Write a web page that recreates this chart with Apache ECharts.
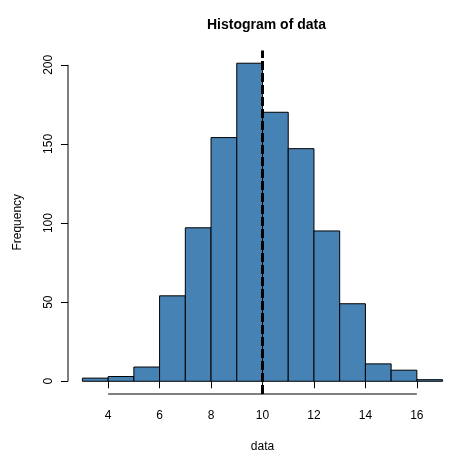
<!DOCTYPE html>
<html>
<head>
<meta charset="utf-8">
<script src="https://cdn.jsdelivr.net/npm/echarts@6/dist/echarts.min.js"></script>
<style>html,body{margin:0;padding:0;background:#fff}#c{width:462px;height:458px}</style>
</head>
<body>
<div id="c"></div>
<script>
// Histogram bins (left edges, width 1) and counts
const binStarts = [3,4,5,6,7,8,9,10,11,12,13,14,15,16];
const binWidth = 1;
const counts = [2,3,9,54,97,154,201,170,147,95,49,11,7,1];
const xTicks = [4,6,8,10,12,14,16];
const yTicks = [0,50,100,150,200];
const refLine = [10];
const titleText = 'Histogram of data';
const xName = 'data';
const yName = 'Frequency';

const FONT = "'Liberation Sans', Arial, Helvetica, sans-serif";
// R-style 4% axis extension
const xLo = binStarts[0], xHi = binStarts[binStarts.length-1] + binWidth;
const yLo = 0, yHi = Math.max(...counts);
const xMin = xLo - 0.04*(xHi-xLo), xMax = xHi + 0.04*(xHi-xLo);
const yMin = yLo - 0.04*(yHi-yLo), yMax = yHi + 0.04*(yHi-yLo);

const barData = binStarts.map((s,i)=>[s, s+binWidth, counts[i]]);

const chart = echarts.init(document.getElementById('c'), null, {renderer:'canvas'});
chart.setOption({
  animation:false,
  backgroundColor:'#fff',
  textStyle:{fontFamily:FONT},
  title:{text:titleText, left:202, top:13,
    textStyle:{fontFamily:FONT, fontWeight:'bold', fontSize:14, color:'#000'}},
  grid:{left:68, right:5, top:50.5, bottom:60, containLabel:false},
  xAxis:{type:'value', min:xMin, max:xMax,
    name:xName, nameLocation:'middle', nameGap:47,
    nameTextStyle:{fontFamily:FONT, fontSize:12, color:'#000'},
    axisLine:{show:false}, splitLine:{show:false},
    axisTick:{show:true, length:7, customValues:xTicks, lineStyle:{color:'#000', width:1}},
    axisLabel:{customValues:xTicks, fontFamily:FONT, fontSize:12, color:'#000', margin:16}},
  yAxis:{type:'value', min:yMin, max:yMax,
    name:yName, nameLocation:'middle', nameGap:44,
    nameTextStyle:{fontFamily:FONT, fontSize:12, color:'#000'},
    axisLine:{show:false}, splitLine:{show:false},
    axisTick:{show:true, length:7, customValues:yTicks, lineStyle:{color:'#000', width:1}},
    axisLabel:{customValues:yTicks, rotate:90, fontFamily:FONT, fontSize:12, color:'#000', margin:13}},
  series:[
    {type:'custom', name:'bars', data:barData, clip:false,
      renderItem:function(params, api){
        const a = api.coord([api.value(0), 0]);
        const b = api.coord([api.value(1), api.value(2)]);
        return {type:'rect',
          shape:{x:a[0], y:b[1], width:b[0]-a[0], height:a[1]-b[1]},
          style:{fill:'#4682B4', stroke:'#000', lineWidth:1}};
      }
    },
    {type:'custom', name:'ref', data:refLine.map(v=>[v]), clip:false, z:5,
      renderItem:function(params, api){
        const a = api.coord([api.value(0), yMin]);
        const b = api.coord([api.value(0), yMax]);
        return {type:'line', shape:{x1:a[0], y1:a[1], x2:b[0], y2:b[1]},
          style:{stroke:'#000', lineWidth:3, lineDash:[9,3]}};
      }
    },
    {type:'custom', name:'axes', data:[[xTicks[0], xTicks[xTicks.length-1], yTicks[0], yTicks[yTicks.length-1]]], clip:false,
      renderItem:function(params, api){
        const p1 = api.coord([api.value(0), yMin]);
        const p2 = api.coord([api.value(1), yMin]);
        const q1 = api.coord([xMin, api.value(2)]);
        const q2 = api.coord([xMin, api.value(3)]);
        return {type:'group', children:[
          {type:'line', shape:{x1:p1[0], y1:p1[1], x2:p2[0], y2:p2[1]}, style:{stroke:'#000', lineWidth:1}},
          {type:'line', shape:{x1:q1[0], y1:q1[1], x2:q2[0], y2:q2[1]}, style:{stroke:'#000', lineWidth:1}}
        ]};
      }
    }
  ]
});
</script>
</body>
</html>
